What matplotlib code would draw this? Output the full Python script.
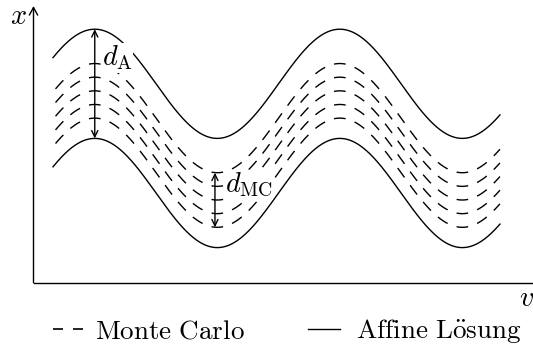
import numpy as np
import matplotlib
matplotlib.use("Agg")
import matplotlib.pyplot as plt

plt.rcParams["mathtext.fontset"] = "cm"
plt.rcParams["lines.scale_dashes"] = False

# curve parameters (abscissa v, ordinate x)
v_start, v_end = 0.5, 11.96
amplitude = 1.4
affine_upper = 5.1
affine_lower = 2.3
mc_centers = [4.22, 3.87, 3.52, 3.17, 2.82]

legend_labels = [r"$\mathrm{Monte\ Carlo}$", r"$\mathrm{Affine\ L\ddot{o}sung}$"]

W, H, DPI = 533, 344, 100
UNIT = 39.0          # pixels per data unit
ORIGIN = (33.5, 282.7)  # pixel position of the axes origin


def pix(px, py):
    """pixel position (from top-left) -> data coordinates"""
    return (px - ORIGIN[0]) / UNIT, (ORIGIN[1] - py) / UNIT


fig = plt.figure(figsize=(W / DPI, H / DPI), dpi=DPI)
ax = fig.add_axes([0, 0, 1, 1])
ax.axis("off")
x0, y1 = pix(0, 0)
x1, y0 = pix(W, H)
ax.set_xlim(x0, x1)
ax.set_ylim(y0, y1)

v = np.linspace(v_start, v_end, 2000)
LW = 1.0
FS = 20.3
FS_LEG = 19.5

# axes with arrow
top = pix(0, 6)[1]
ax.annotate("", xy=(0, top), xytext=(0, 0),
            arrowprops=dict(arrowstyle="->,head_length=0.55,head_width=0.3",
                            lw=LW, color="black", shrinkA=0, shrinkB=0))
ax.plot([0, x1 + 1], [0, 0], color="black", lw=LW, clip_on=False)
ax.text(*pix(18.5, 15.5), r"$x$", fontsize=FS, ha="center", va="center")
ax.text(*pix(526.5, 297.5), r"$v$", fontsize=FS, ha="center", va="center")

# affine solution bounds
ax.plot(v, affine_upper + amplitude * np.sin(v), color="black", lw=LW)
ax.plot(v, affine_lower + amplitude * np.sin(v), color="black", lw=LW)


def arc_points(vv, yy):
    d = ax.transData.transform(np.column_stack([vv, yy]))
    seg = np.hypot(np.diff(d[:, 0]), np.diff(d[:, 1]))
    return np.concatenate([[0], np.cumsum(seg)]) * 72.0 / DPI


# Monte Carlo curves: dash pattern fitted to the half wave, dash centred on the crests
for c in mc_centers:
    y = c + amplitude * np.sin(v)
    s = arc_points(v, y)
    s_peak1 = np.interp(np.pi / 2, v, s)
    s_trough = np.interp(3 * np.pi / 2, v, s)
    period = (s_trough - s_peak1) / 8.0
    on = 0.55 * period
    off = period - on
    offset = (on / 2 - s_peak1) % period
    ax.plot(v, y, color="black", lw=LW, linestyle=(offset, (on, off)))

# distance markers
arrow = dict(arrowstyle="<->,head_length=0.45,head_width=0.22",
             lw=LW, color="black", shrinkA=0, shrinkB=0)
label_box = dict(facecolor="white", edgecolor="none", pad=0.5)
vp = np.pi / 2
ax.annotate("", xy=(vp, affine_upper + amplitude), xytext=(vp, affine_lower + amplitude),
            arrowprops=arrow)
ax.text(*pix(102, 58), r"$d_{\mathrm{A}}$", fontsize=FS, ha="left", va="center",
        bbox=label_box, zorder=5)

vt = 3 * np.pi / 2 - 0.06
ax.annotate("", xy=(vt, max(mc_centers) - amplitude), xytext=(vt, min(mc_centers) - amplitude),
            arrowprops=arrow)
ax.text(*pix(225, 185), r"$d_{\mathrm{MC}}$", fontsize=FS, ha="left", va="center",
        bbox=label_box, zorder=5)

# legend: two dash strokes, one solid stroke
ly = pix(0, 329)[1]
d1a, d1b = pix(52.5, 0)[0], pix(62.5, 0)[0]
d2a, d2b = pix(72.5, 0)[0], pix(83.0, 0)[0]
ax.plot([d1a, d1b, np.nan, d2a, d2b], [ly, ly, np.nan, ly, ly],
        color="black", lw=1.2, solid_capstyle="butt")
ax.text(*pix(95, 338.3), legend_labels[0], fontsize=FS_LEG, ha="left", va="baseline")
sx0, sx1 = pix(308, 0)[0], pix(339.5, 0)[0]
ax.plot([sx0, sx1], [ly, ly], color="black", lw=LW)
ax.text(*pix(355.5, 338.3), legend_labels[1], fontsize=FS_LEG, ha="left", va="baseline")

fig.savefig("out.png", dpi=DPI)
